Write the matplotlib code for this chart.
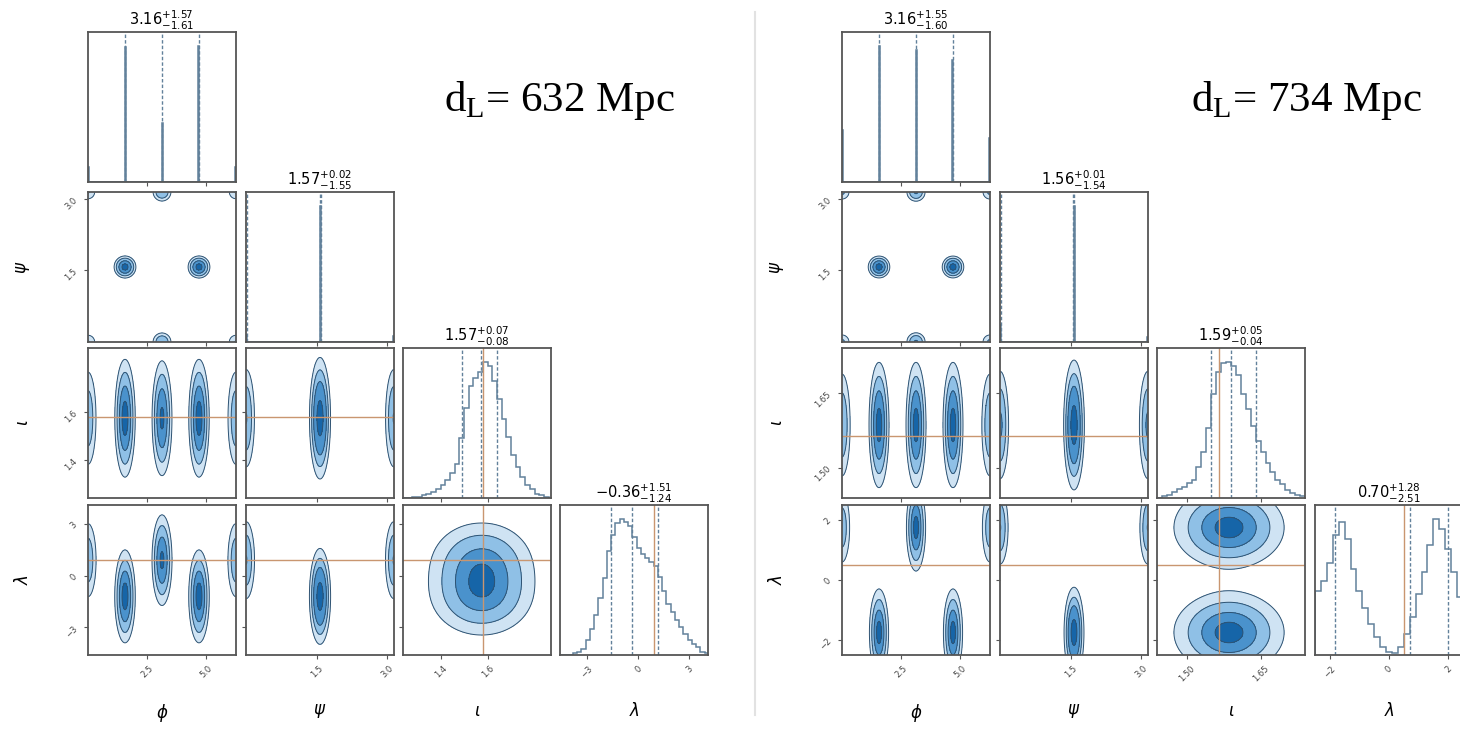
import numpy as np
import matplotlib
matplotlib.use("Agg")
import matplotlib.pyplot as plt
from matplotlib.lines import Line2D
from matplotlib.ticker import FixedLocator, FixedFormatter, NullFormatter

# ---------------- data ----------------
labels = [r"$\phi$", r"$\psi$", r"$\iota$", r"$\lambda$"]

# ----- left corner (d_L = 632 Mpc) -----
L_text = "632"
L_ranges = [(0.0, 6.283), (0.0, 3.1416), (1.24, 1.87), (-4.6, 4.1)]
L_ticks = [[2.5, 5.0], [1.5, 3.0], [1.4, 1.6], [-3, 0, 3]]
L_ticklabels = [["2.5", "5.0"], ["1.5", "3.0"], ["1.4", "1.6"], ["\u22123", "0", "3"]]
L_titles = [r"$3.16^{+1.57}_{-1.61}$", r"$1.57^{+0.02}_{-1.55}$",
            r"$1.57^{+0.07}_{-0.08}$", r"$-0.36^{+1.51}_{-1.24}$"]
L_quantiles = [[1.55, 3.16, 4.73], [0.02, 1.57, 1.59], [1.49, 1.57, 1.64], [-1.60, -0.36, 1.15]]
L_truths = [None, None, 1.58, 0.9]

L_phi_spike_pos = [0.03, 1.571, 3.142, 4.712, 6.25]
L_phi_spike_h = [0.10, 0.92, 0.40, 0.93, 0.10]
L_psi_spike_pos = [0.02, 1.571, 3.12]
L_psi_spike_h = [0.05, 0.93, 0.04]
L_iota_hist = [0.0, 0.0, 0.005, 0.01, 0.02, 0.03, 0.04, 0.06, 0.09, 0.12, 0.17, 0.23, 0.40,
               0.60, 0.75, 0.80, 0.84, 0.91, 0.88, 0.78, 0.66, 0.53, 0.41, 0.29, 0.21, 0.14,
               0.09, 0.06, 0.03, 0.02, 0.01]
L_iota_edges = (1.24, 1.86)
L_lam_hist = [0.0, 0.0, 0.0, 0.01, 0.02, 0.04, 0.10, 0.17, 0.26, 0.37, 0.50, 0.68, 0.78,
              0.86, 0.89, 0.87, 0.84, 0.77, 0.70, 0.66, 0.63, 0.61, 0.58, 0.51, 0.42, 0.33,
              0.28, 0.23, 0.18, 0.14, 0.10, 0.07, 0.05, 0.02, 0.01]
L_lam_edges = (-4.6, 4.15)

# modes: phi, psi, iota, lambda, weight
L_modes = [
    [1.571, 1.571, 1.575, -1.2, 1.0],
    [4.712, 1.571, 1.575, -1.2, 1.0],
    [3.142, 0.0, 1.575, 0.9, 0.45],
    [3.142, 3.1416, 1.575, 0.9, 0.45],
    [0.0, 0.0, 1.575, 0.9, 0.22],
    [0.0, 3.1416, 1.575, 0.9, 0.22],
    [6.283, 0.0, 1.575, 0.9, 0.22],
    [6.283, 3.1416, 1.575, 0.9, 0.22],
]
L_widths = [0.21, 0.105, 0.12, 1.3]

# ----- right corner (d_L = 734 Mpc) -----
R_text = "734"
R_ranges = [(0.0, 6.283), (0.0, 3.1416), (1.44, 1.74), (-2.5, 2.5)]
R_ticks = [[2.5, 5.0], [1.5, 3.0], [1.50, 1.65], [-2, 0, 2]]
R_ticklabels = [["2.5", "5.0"], ["1.5", "3.0"], ["1.50", "1.65"], ["\u22122", "0", "2"]]
R_titles = [r"$3.16^{+1.55}_{-1.60}$", r"$1.56^{+0.01}_{-1.54}$",
            r"$1.59^{+0.05}_{-0.04}$", r"$0.70^{+1.28}_{-2.51}$"]
R_quantiles = [[1.56, 3.16, 4.71], [0.02, 1.56, 1.57], [1.55, 1.59, 1.64], [-1.81, 0.70, 1.98]]
R_truths = [None, None, 1.565, 0.5]

R_phi_spike_pos = [0.03, 1.571, 3.142, 4.712, 6.25]
R_phi_spike_h = [0.35, 0.92, 0.89, 0.82, 0.30]
R_psi_spike_pos = [0.02, 1.571, 3.12]
R_psi_spike_h = [0.10, 0.81, 0.03]
R_iota_hist = [0.0, 0.01, 0.02, 0.04, 0.06, 0.07, 0.10, 0.12, 0.20, 0.30, 0.46, 0.68, 0.82,
               0.88, 0.89, 0.86, 0.80, 0.68, 0.58, 0.47, 0.37, 0.30, 0.23, 0.17, 0.12, 0.09,
               0.05, 0.03, 0.02, 0.01]
R_iota_edges = (1.44, 1.74)
R_lam_hist = [0.42, 0.48, 0.60, 0.78, 0.87, 0.76, 0.56, 0.42, 0.31, 0.20, 0.12, 0.05, 0.02,
              0.01, 0.05, 0.14, 0.25, 0.40, 0.54, 0.72, 0.89, 0.82, 0.69, 0.54, 0.38]
R_lam_edges = (-2.5, 2.5)

R_modes = [
    [1.571, 1.571, 1.586, -1.75, 1.0],
    [4.712, 1.571, 1.586, -1.75, 1.0],
    [3.142, 0.0, 1.586, 1.75, 0.5],
    [3.142, 3.1416, 1.586, 1.75, 0.5],
    [0.0, 0.0, 1.586, 1.75, 0.25],
    [0.0, 3.1416, 1.586, 1.75, 0.25],
    [6.283, 0.0, 1.586, 1.75, 0.25],
    [6.283, 3.1416, 1.586, 1.75, 0.25],
]
R_widths = [0.21, 0.105, 0.062, 0.75]

# ---------------- style ----------------
W, H = 1460, 730
HIST_C = "#62819b"
TRUTH_C = "#c99670"
SPINE_C = "#555555"
FILL_C = ["#cfe3f3", "#8fc0e6", "#4a92cc", "#1665a8"]
LINE_C = "#2f5372"
MASS = [0.118, 0.393, 0.675, 0.865]

fig = plt.figure(figsize=(W / 100, H / 100), dpi=100)

col_x = {"L": [88, 246, 403, 560], "R": [842, 1000, 1157, 1315]}
row_y = [32, 192, 348, 505]
PW, PH = 148, 150


def add_ax(x, y):
    return fig.add_axes([x / W, 1 - (y + PH) / H, PW / W, PH / H])


def style(ax):
    for s in ax.spines.values():
        s.set_color(SPINE_C)
        s.set_linewidth(1.3)
    ax.tick_params(length=3, width=0.8, color=SPINE_C, labelsize=6, labelcolor="#444444")


def spikes_to_hist(lo, hi, pos, h, n=120):
    edges = np.linspace(lo, hi, n + 1)
    vals = np.zeros(n)
    for p, v in zip(pos, h):
        k = min(max(np.searchsorted(edges, p) - 1, 0), n - 1)
        vals[k] = max(vals[k], v)
    return edges, vals


def mass_levels(Z):
    z = np.sort(Z.ravel())[::-1]
    c = np.cumsum(z)
    c /= c[-1]
    V = [z[min(np.searchsorted(c, f), len(z) - 1)] for f in MASS]
    return sorted(V)


def corner(side, ranges, ticks, ticklabels, titles, quants, truths,
           phi_pos, phi_h, psi_pos, psi_h, iota_hist, iota_edges, lam_hist, lam_edges,
           modes, widths):
    hists = [
        spikes_to_hist(ranges[0][0], ranges[0][1], phi_pos, phi_h),
        spikes_to_hist(ranges[1][0], ranges[1][1], psi_pos, psi_h),
        (np.linspace(iota_edges[0], iota_edges[1], len(iota_hist) + 1), np.array(iota_hist)),
        (np.linspace(lam_edges[0], lam_edges[1], len(lam_hist) + 1), np.array(lam_hist)),
    ]
    modes = np.array(modes)
    for i in range(4):
        for j in range(i + 1):
            ax = add_ax(col_x[side][j], row_y[i])
            style(ax)
            if i == j:
                edges, vals = hists[i]
                ax.stairs(vals, edges, color=HIST_C, lw=1.1)
                for q in quants[i]:
                    ax.axvline(q, color=HIST_C, ls=(0, (2.5, 1.5)), lw=1.0)
                if truths[i] is not None:
                    ax.axvline(truths[i], color=TRUTH_C, lw=1.0)
                ax.set_xlim(*ranges[i])
                ax.set_ylim(0, 1.1 * vals.max())
                ax.set_yticks([])
                ax.set_title(titles[i], fontsize=10.5, pad=2)
            else:
                xs = np.linspace(ranges[j][0], ranges[j][1], 220)
                ys = np.linspace(ranges[i][0], ranges[i][1], 220)
                X, Y = np.meshgrid(xs, ys)
                Z = np.zeros_like(X)
                for m in modes:
                    Z += m[4] * np.exp(-0.5 * (((X - m[j]) / widths[j]) ** 2 +
                                               ((Y - m[i]) / widths[i]) ** 2))
                V = mass_levels(Z)
                ax.contourf(X, Y, Z, levels=V + [Z.max() * 1.001], colors=FILL_C)
                ax.contour(X, Y, Z, levels=V, colors=LINE_C, linewidths=0.7)
                if truths[j] is not None:
                    ax.axvline(truths[j], color=TRUTH_C, lw=1.0)
                if truths[i] is not None:
                    ax.axhline(truths[i], color=TRUTH_C, lw=1.0)
                ax.set_xlim(*ranges[j])
                ax.set_ylim(*ranges[i])
                ax.yaxis.set_major_locator(FixedLocator(ticks[i]))
                if j == 0:
                    ax.yaxis.set_major_formatter(FixedFormatter(ticklabels[i]))
                    for t in ax.get_yticklabels():
                        t.set_rotation(45)
                    ax.set_ylabel(labels[i], fontsize=12)
                    ax.yaxis.set_label_coords(-0.38, 0.5)
                else:
                    ax.yaxis.set_major_formatter(NullFormatter())
            ax.xaxis.set_major_locator(FixedLocator(ticks[j]))
            if i == 3:
                ax.xaxis.set_major_formatter(FixedFormatter(ticklabels[j]))
                for t in ax.get_xticklabels():
                    t.set_rotation(45)
                ax.set_xlabel(labels[j], fontsize=12)
                ax.xaxis.set_label_coords(0.5, -0.31)
            else:
                ax.xaxis.set_major_formatter(NullFormatter())


corner("L", L_ranges, L_ticks, L_ticklabels, L_titles, L_quantiles, L_truths,
       L_phi_spike_pos, L_phi_spike_h, L_psi_spike_pos, L_psi_spike_h,
       L_iota_hist, L_iota_edges, L_lam_hist, L_lam_edges, L_modes, L_widths)
corner("R", R_ranges, R_ticks, R_ticklabels, R_titles, R_quantiles, R_truths,
       R_phi_spike_pos, R_phi_spike_h, R_psi_spike_pos, R_psi_spike_h,
       R_iota_hist, R_iota_edges, R_lam_hist, R_lam_edges, R_modes, R_widths)

fig.text(560 / W, 1 - 100 / H, r"d$_\mathregular{L}$= " + L_text + " Mpc", fontsize=31,
         family="Liberation Serif", ha="center", va="center")
fig.text(1307 / W, 1 - 100 / H, r"d$_\mathregular{L}$= " + R_text + " Mpc", fontsize=31,
         family="Liberation Serif", ha="center", va="center")

fig.add_artist(Line2D([755 / W, 755 / W], [1 - 715 / H, 1 - 12 / H], color="#e2e2e2", lw=1.5))

fig.savefig("out.png", dpi=100, facecolor="white")
